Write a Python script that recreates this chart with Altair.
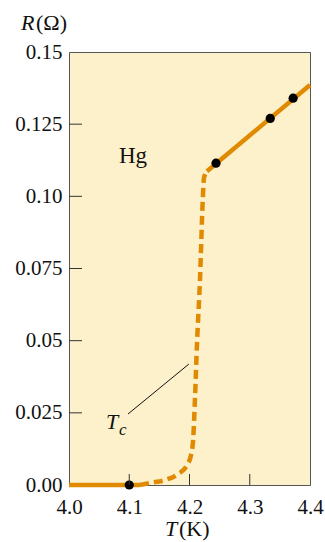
import altair as alt
import pandas as pd

# ---- data ----
low_T = [4.0, 4.118]
low_R = [0.0, 0.0]
dash_T = [4.118, 4.134, 4.159, 4.181, 4.196, 4.2025, 4.206, 4.209, 4.2125, 4.2174, 4.222, 4.224, 4.229]
dash_R = [0.0, 0.0007, 0.0017, 0.0038, 0.0069, 0.0104, 0.0156, 0.0294, 0.0492, 0.071, 0.0987, 0.1063, 0.1087]
high_T = [4.229, 4.4]
high_R = [0.1087, 0.1386]
pts_T = [4.1, 4.244, 4.334, 4.372]
pts_R = [0.0, 0.1115, 0.127, 0.134]

x_ticks = [4.0, 4.1, 4.2, 4.3, 4.4]
y_ticks = [0.0, 0.025, 0.05, 0.075, 0.10, 0.125, 0.15]
y_labels = ["0.00", "0.025", "0.05", "0.075", "0.10", "0.125", "0.15"]
inner_x_ticks = [4.1, 4.2, 4.3]
inner_y_ticks = [0.025, 0.05, 0.075, 0.10, 0.125]

tc_line_T = [4.098, 4.199]
tc_line_R = [0.0246, 0.0419]

ORANGE = "#DF8A00"
BG = "#FDF1CB"
FONT = "Liberation Serif"
W, H = 241, 433

xs = alt.Scale(domain=[4.0, 4.4], nice=False, zero=False)
ys = alt.Scale(domain=[0.0, 0.15], nice=False, zero=False)

label_expr = " : ".join(
    f"abs(datum.value - {v}) < 1e-9 ? '{l}'" for v, l in zip(y_ticks, y_labels)
) + " : ''"

low = pd.DataFrame({"T": low_T, "R": low_R})
dash = pd.DataFrame({"T": dash_T, "R": dash_R})
high = pd.DataFrame({"T": high_T, "R": high_R})
pts = pd.DataFrame({"T": pts_T, "R": pts_R})

X = alt.X("T:Q", scale=xs, axis=alt.Axis(values=x_ticks, format=".1f", title=None,
                                        tickSize=0, labelPadding=11, domain=False, grid=False,
                                        labelFlush=False, labelOverlap=False,
                                        labelFont=FONT, labelFontSize=21, labelColor="#111"))
Y = alt.Y("R:Q", scale=ys, axis=alt.Axis(values=y_ticks, labelExpr=label_expr, title=None,
                                        tickSize=0, labelPadding=7, domain=False, grid=False,
                                        labelFlush=False, labelOverlap=False,
                                        labelFont=FONT, labelFontSize=21, labelColor="#111"))

base_line = alt.Chart(low).mark_line(color=ORANGE, strokeWidth=4.5).encode(x=X, y=Y)
dash_line = alt.Chart(dash).mark_line(color=ORANGE, strokeWidth=4.5, strokeDash=[9, 5],
                                      interpolate="monotone").encode(x="T:Q", y="R:Q")
high_line = alt.Chart(high).mark_line(color=ORANGE, strokeWidth=4.5).encode(x="T:Q", y="R:Q")
points = alt.Chart(pts).mark_circle(color="black", opacity=1, size=85).encode(x="T:Q", y="R:Q")

yt = alt.Chart(pd.DataFrame({"R": inner_y_ticks})).mark_rule(color="#333", strokeWidth=1).encode(
    y="R:Q", x=alt.value(0), x2=alt.value(13))
xt = alt.Chart(pd.DataFrame({"T": inner_x_ticks})).mark_rule(color="#333", strokeWidth=1).encode(
    x="T:Q", y=alt.value(H - 11), y2=alt.value(H))

tc_line = alt.Chart(pd.DataFrame({"T": [tc_line_T[0]], "R": [tc_line_R[0]],
                                  "T2": [tc_line_T[1]], "R2": [tc_line_R[1]]})).mark_rule(
    color="#111", strokeWidth=1).encode(x="T:Q", y="R:Q", x2="T2:Q", y2="R2:Q")

def txt(s, x, y, size=21, style="normal", align="left"):
    return alt.Chart(pd.DataFrame({"t": [s]})).mark_text(
        font=FONT, fontSize=size, fontStyle=style, align=align, baseline="alphabetic",
        color="#111").encode(text="t:N", x=alt.value(x), y=alt.value(y))

hg = txt("Hg", 119 - 69, 163 - 52, size=23)
tc_T = txt("T", 106 - 69, 429 - 52, size=22, style="italic")
tc_c = txt("c", 119 - 69, 435 - 52, size=17, style="italic")
r_lab = txt("R", 21 - 69, 30 - 52, size=22, style="italic")
r_unit = txt("(Ω)", 36 - 69, 30 - 52, size=22)
t_lab = txt("T", 165 - 69, 536 - 52, size=22, style="italic")
t_unit = txt("(K)", 179 - 69, 536 - 52, size=22)

chart = alt.layer(
    base_line, dash_line, high_line, points, yt, xt, tc_line,
    hg, tc_T, tc_c, r_lab, r_unit, t_lab, t_unit
).properties(
    width=W, height=H,
    autosize=alt.AutoSizeParams(type="none"),
    padding={"left": 69, "top": 52, "right": 15, "bottom": 57},
    background="white",
).configure_view(
    fill=BG, stroke="#555", strokeWidth=1
)

chart.save("out.html", embed_options={"renderer": "svg", "actions": False})
